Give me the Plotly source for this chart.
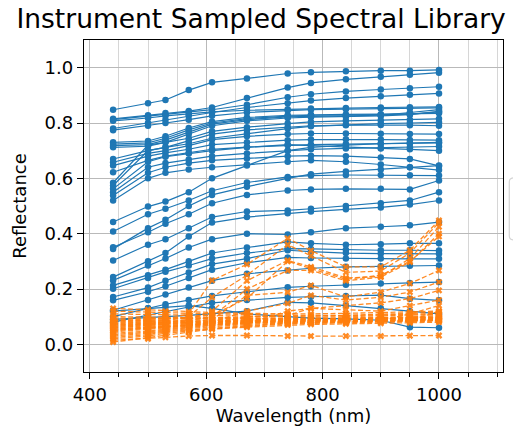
import plotly.graph_objects as go

# Band centres of the instrument (nm)
wavelengths = [440, 500, 530, 570, 610, 670, 740, 780, 840, 900, 950, 1000]

# Library spectra (reflectance per band)
library_spectra = [
    [0.848, 0.871, 0.883, 0.919, 0.947, 0.961, 0.979, 0.983, 0.987, 0.989, 0.989, 0.992],
    [0.815, 0.828, 0.836, 0.843, 0.856, 0.890, 0.928, 0.945, 0.958, 0.967, 0.974, 0.982],
    [0.812, 0.824, 0.830, 0.840, 0.848, 0.866, 0.893, 0.904, 0.914, 0.921, 0.926, 0.931],
    [0.780, 0.800, 0.812, 0.826, 0.838, 0.856, 0.871, 0.881, 0.890, 0.897, 0.902, 0.907],
    [0.808, 0.818, 0.826, 0.832, 0.840, 0.846, 0.850, 0.852, 0.854, 0.856, 0.857, 0.858],
    [0.774, 0.790, 0.800, 0.812, 0.826, 0.838, 0.845, 0.848, 0.850, 0.852, 0.853, 0.855],
    [0.730, 0.735, 0.752, 0.782, 0.805, 0.820, 0.828, 0.830, 0.831, 0.832, 0.833, 0.835],
    [0.724, 0.728, 0.745, 0.775, 0.800, 0.816, 0.825, 0.828, 0.829, 0.830, 0.832, 0.840],
    [0.718, 0.722, 0.738, 0.768, 0.796, 0.812, 0.822, 0.824, 0.826, 0.828, 0.838, 0.848],
    [0.712, 0.716, 0.730, 0.760, 0.790, 0.808, 0.818, 0.821, 0.823, 0.826, 0.830, 0.842],
    [0.670, 0.700, 0.712, 0.735, 0.760, 0.775, 0.785, 0.790, 0.792, 0.793, 0.792, 0.790],
    [0.658, 0.690, 0.700, 0.718, 0.740, 0.752, 0.760, 0.762, 0.762, 0.761, 0.760, 0.760],
    [0.646, 0.680, 0.692, 0.705, 0.722, 0.730, 0.738, 0.740, 0.741, 0.740, 0.739, 0.738],
    [0.622, 0.665, 0.680, 0.692, 0.705, 0.713, 0.720, 0.722, 0.724, 0.725, 0.726, 0.728],
    [0.584, 0.720, 0.730, 0.745, 0.770, 0.785, 0.798, 0.804, 0.808, 0.810, 0.812, 0.815],
    [0.574, 0.700, 0.712, 0.725, 0.745, 0.762, 0.780, 0.788, 0.794, 0.798, 0.800, 0.802],
    [0.562, 0.660, 0.678, 0.690, 0.700, 0.712, 0.722, 0.718, 0.712, 0.708, 0.705, 0.700],
    [0.550, 0.640, 0.655, 0.668, 0.680, 0.690, 0.700, 0.705, 0.708, 0.710, 0.712, 0.715],
    [0.538, 0.620, 0.640, 0.655, 0.665, 0.672, 0.680, 0.682, 0.680, 0.675, 0.670, 0.645],
    [0.520, 0.600, 0.620, 0.632, 0.640, 0.650, 0.660, 0.665, 0.660, 0.650, 0.640, 0.630],
    [0.442, 0.498, 0.516, 0.550, 0.600, 0.646, 0.700, 0.712, 0.720, 0.725, 0.728, 0.730],
    [0.408, 0.470, 0.490, 0.520, 0.555, 0.585, 0.605, 0.610, 0.612, 0.612, 0.611, 0.610],
    [0.351, 0.405, 0.436, 0.470, 0.510, 0.540, 0.556, 0.560, 0.562, 0.562, 0.560, 0.592],
    [0.345, 0.420, 0.450, 0.500, 0.540, 0.570, 0.600, 0.615, 0.625, 0.632, 0.640, 0.646],
    [0.303, 0.360, 0.380, 0.420, 0.460, 0.480, 0.484, 0.490, 0.500, 0.510, 0.520, 0.550],
    [0.243, 0.300, 0.330, 0.390, 0.440, 0.460, 0.474, 0.480, 0.488, 0.495, 0.505, 0.520],
    [0.231, 0.285, 0.310, 0.350, 0.380, 0.400, 0.397, 0.405, 0.420, 0.425, 0.430, 0.442],
    [0.213, 0.250, 0.270, 0.300, 0.330, 0.350, 0.370, 0.365, 0.360, 0.362, 0.365, 0.365],
    [0.201, 0.240, 0.262, 0.285, 0.310, 0.330, 0.346, 0.345, 0.342, 0.340, 0.340, 0.339],
    [0.171, 0.205, 0.230, 0.260, 0.290, 0.310, 0.340, 0.335, 0.330, 0.328, 0.327, 0.327],
    [0.159, 0.190, 0.210, 0.240, 0.270, 0.295, 0.314, 0.312, 0.310, 0.310, 0.309, 0.309],
    [0.123, 0.160, 0.180, 0.205, 0.230, 0.255, 0.267, 0.275, 0.280, 0.282, 0.284, 0.285],
    [0.100, 0.130, 0.145, 0.160, 0.175, 0.190, 0.206, 0.210, 0.215, 0.220, 0.222, 0.225],
    [0.080, 0.105, 0.120, 0.135, 0.150, 0.160, 0.170, 0.172, 0.175, 0.178, 0.165, 0.159],
    [0.120, 0.130, 0.135, 0.140, 0.130, 0.110, 0.100, 0.095, 0.092, 0.087, 0.062, 0.060],
    [0.090, 0.095, 0.100, 0.105, 0.110, 0.120, 0.152, 0.150, 0.140, 0.130, 0.120, 0.110],
]

# Field-sampled spectra (reflectance per band)
sampled_spectra = [
    [0.080, 0.085, 0.090, 0.110, 0.231, 0.289, 0.383, 0.339, 0.280, 0.280, 0.340, 0.448],
    [0.075, 0.080, 0.085, 0.100, 0.170, 0.250, 0.360, 0.320, 0.260, 0.265, 0.330, 0.440],
    [0.070, 0.075, 0.080, 0.090, 0.120, 0.230, 0.303, 0.280, 0.240, 0.245, 0.310, 0.425],
    [0.065, 0.072, 0.078, 0.085, 0.100, 0.200, 0.267, 0.267, 0.230, 0.243, 0.297, 0.400],
    [0.085, 0.090, 0.092, 0.098, 0.105, 0.166, 0.300, 0.275, 0.235, 0.250, 0.300, 0.390],
    [0.060, 0.068, 0.072, 0.080, 0.090, 0.177, 0.188, 0.213, 0.171, 0.189, 0.220, 0.267],
    [0.055, 0.060, 0.065, 0.070, 0.080, 0.120, 0.148, 0.177, 0.160, 0.170, 0.189, 0.225],
    [0.050, 0.058, 0.060, 0.068, 0.075, 0.100, 0.105, 0.130, 0.140, 0.150, 0.165, 0.195],
    [0.130, 0.125, 0.120, 0.118, 0.115, 0.112, 0.110, 0.110, 0.112, 0.115, 0.118, 0.120],
    [0.120, 0.118, 0.115, 0.112, 0.110, 0.108, 0.105, 0.104, 0.105, 0.108, 0.112, 0.116],
    [0.110, 0.108, 0.106, 0.104, 0.102, 0.100, 0.098, 0.098, 0.100, 0.102, 0.105, 0.108],
    [0.100, 0.100, 0.098, 0.096, 0.095, 0.095, 0.094, 0.094, 0.095, 0.097, 0.100, 0.104],
    [0.095, 0.094, 0.094, 0.093, 0.092, 0.092, 0.092, 0.092, 0.093, 0.094, 0.096, 0.098],
    [0.090, 0.092, 0.093, 0.094, 0.095, 0.097, 0.100, 0.102, 0.104, 0.106, 0.108, 0.112],
    [0.085, 0.086, 0.087, 0.088, 0.089, 0.090, 0.092, 0.093, 0.094, 0.095, 0.097, 0.100],
    [0.080, 0.082, 0.084, 0.085, 0.086, 0.088, 0.090, 0.091, 0.092, 0.093, 0.094, 0.096],
    [0.075, 0.078, 0.080, 0.082, 0.084, 0.086, 0.089, 0.090, 0.091, 0.092, 0.094, 0.095],
    [0.070, 0.074, 0.077, 0.080, 0.082, 0.085, 0.088, 0.089, 0.090, 0.091, 0.092, 0.094],
    [0.065, 0.070, 0.074, 0.078, 0.080, 0.083, 0.086, 0.087, 0.088, 0.089, 0.090, 0.092],
    [0.060, 0.066, 0.070, 0.075, 0.078, 0.082, 0.085, 0.086, 0.087, 0.088, 0.089, 0.090],
    [0.055, 0.062, 0.067, 0.072, 0.076, 0.080, 0.084, 0.085, 0.086, 0.087, 0.088, 0.089],
    [0.050, 0.058, 0.063, 0.069, 0.074, 0.079, 0.083, 0.084, 0.085, 0.086, 0.087, 0.088],
    [0.045, 0.054, 0.060, 0.066, 0.072, 0.078, 0.082, 0.083, 0.084, 0.085, 0.086, 0.087],
    [0.040, 0.048, 0.055, 0.062, 0.070, 0.076, 0.080, 0.081, 0.082, 0.084, 0.086, 0.120],
    [0.035, 0.044, 0.052, 0.060, 0.068, 0.075, 0.120, 0.130, 0.125, 0.120, 0.140, 0.160],
    [0.030, 0.040, 0.048, 0.056, 0.064, 0.072, 0.078, 0.080, 0.082, 0.085, 0.110, 0.140],
    [0.025, 0.035, 0.045, 0.052, 0.060, 0.068, 0.076, 0.078, 0.080, 0.082, 0.084, 0.086],
    [0.020, 0.030, 0.040, 0.048, 0.056, 0.065, 0.074, 0.076, 0.078, 0.080, 0.082, 0.084],
    [0.015, 0.020, 0.025, 0.030, 0.032, 0.032, 0.030, 0.030, 0.030, 0.030, 0.031, 0.032],
    [0.008, 0.025, 0.035, 0.045, 0.055, 0.062, 0.070, 0.072, 0.074, 0.076, 0.078, 0.080],
]

x_ticks = [400, 600, 800, 1000]
y_ticks = [0.0, 0.2, 0.4, 0.6, 0.8, 1.0]

BLUE = "#1f77b4"
ORANGE = "#ff7f0e"
FONT = "DejaVu Sans"

fig = go.Figure()

for spec in library_spectra:
    fig.add_trace(go.Scatter(
        x=wavelengths, y=spec, mode="lines+markers",
        line=dict(color=BLUE, width=1.2),
        marker=dict(symbol="circle", size=6.5, color=BLUE),
        showlegend=False,
    ))

for spec in sampled_spectra:
    fig.add_trace(go.Scatter(
        x=wavelengths, y=spec, mode="lines+markers",
        line=dict(color=ORANGE, width=1.3, dash="5px,2.5px"),
        marker=dict(symbol="x", size=6, color=ORANGE, line=dict(width=0)),
        opacity=0.9,
        showlegend=False,
    ))

axis_common = dict(
    showline=True, linecolor="black", linewidth=1.3, mirror=True,
    ticks="outside", ticklen=6, tickwidth=1.2, tickcolor="black",
    showgrid=True, gridcolor="#b9b9b9", gridwidth=1,
    zeroline=False,
    tickfont=dict(family=FONT, size=18, color="black"),
)

fig.update_xaxes(
    **axis_common,
    range=[390, 1110], tickvals=x_ticks,
    ticktext=[str(v) for v in x_ticks],
    minor=dict(dtick=50, tick0=400, ticks="outside", ticklen=3.5,
               tickwidth=1, tickcolor="black", showgrid=True,
               gridcolor="#d6d6d6", gridwidth=0.8),
    title=dict(text="Wavelength (nm)", font=dict(family=FONT, size=18, color="black"),
               standoff=1),
)
fig.update_yaxes(
    **axis_common,
    range=[-0.1, 1.1], tickvals=y_ticks,
    ticktext=[f"{v:.1f}" for v in y_ticks],
    title=dict(text="Reflectance", font=dict(family=FONT, size=18, color="black"),
               standoff=13),
)

# Legend frame sitting just past the right edge of the axes
lx0, lx1 = 1.015, 1.2
ly0, ly1 = 0.398, 0.585
r = 0.012
fig.add_shape(
    type="path", xref="paper", yref="paper",
    path=(f"M {lx0 + r} {ly1} L {lx1} {ly1} L {lx1} {ly0} L {lx0 + r} {ly0} "
          f"Q {lx0} {ly0} {lx0} {ly0 + r} L {lx0} {ly1 - r} Q {lx0} {ly1} {lx0 + r} {ly1} Z"),
    line=dict(color="#d4d4d4", width=1.2), fillcolor="rgba(255,255,255,0.8)",
    layer="above",
)

fig.update_layout(
    width=513, height=436,
    margin=dict(l=84, r=10, t=40, b=64, autoexpand=False),
    paper_bgcolor="white", plot_bgcolor="white",
    title=dict(text="Instrument Sampled Spectral Library",
               font=dict(family=FONT, size=26.5, color="black"),
               x=0.509, xanchor="center", xref="container",
               y=0.958, yanchor="middle", yref="container"),
)

fig.write_html("out.html")
